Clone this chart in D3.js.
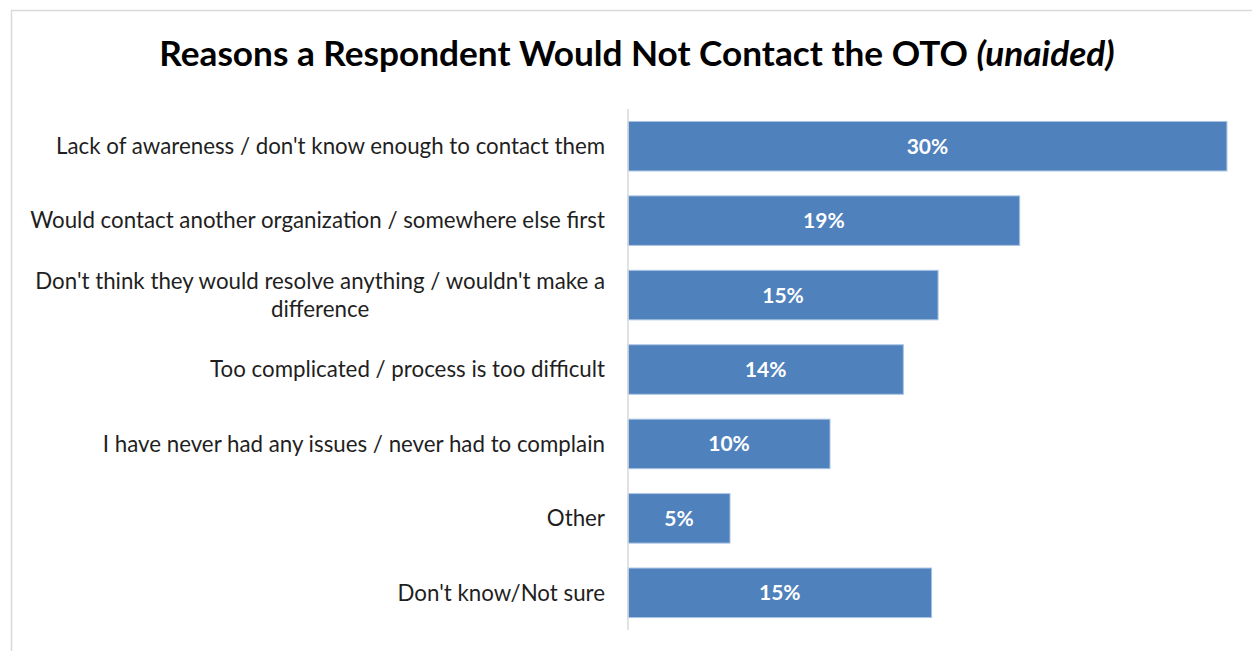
<!DOCTYPE html>
<html>
<head>
<meta charset="utf-8">
<script src="https://cdn.jsdelivr.net/npm/d3@7"></script>
<style>
  html, body { margin: 0; padding: 0; background: #fff; }
  svg { display: block; }
</style>
</head>
<body>
<svg id="chart" width="1252" height="651"></svg>
<script>
// Survey reasons, top to bottom
const categories = [
  ["Lack of awareness / don't know enough to contact them"],
  ["Would contact another organization / somewhere else first"],
  ["Don't think they would resolve anything / wouldn't make a", "difference"],
  ["Too complicated / process is too difficult"],
  ["I have never had any issues / never had to complain"],
  ["Other"],
  ["Don't know/Not sure"]
];
// Share of respondents
const values = [0.2965, 0.1939, 0.1535, 0.1363, 0.1000, 0.0505, 0.1503];

const titleMain = "Reasons a Respondent Would Not Contact the OTO ";
const titleNote = "(unaided)";

const W = 1252, H = 651;
const FONT = "Lato, 'Open Sans', sans-serif";
const svg = d3.select("#chart");

// chart frame
svg.append("path")
  .attr("d", `M11.5,${H} V10.5 H${W}`)
  .attr("fill", "none")
  .attr("stroke", "#d9d9d9")
  .attr("stroke-width", 1.5);

// title
const title = svg.append("text")
  .attr("x", 637)
  .attr("y", 66)
  .attr("text-anchor", "middle")
  .attr("font-family", FONT)
  .attr("font-weight", "bold")
  .attr("font-size", 35.2)
  .attr("fill", "#000");
title.append("tspan").text(titleMain);
title.append("tspan").attr("font-style", "italic").text(titleNote);

const idx = d3.range(categories.length);
const y = d3.scaleBand()
  .domain(idx)
  .range([109, 630])
  .paddingInner(0.335)
  .paddingOuter(0.1675);

const x = d3.scaleLinear()
  .domain([0, 0.30])
  .range([628, 1234]);

// bars
svg.append("g").selectAll("rect")
  .data(values)
  .join("rect")
  .attr("x", x(0))
  .attr("y", (d, i) => y(i))
  .attr("width", d => x(d) - x(0))
  .attr("height", y.bandwidth())
  .attr("fill", "#4f81bd")
  .attr("stroke", "#a9c3e3")
  .attr("stroke-width", 1);

// value axis baseline
svg.append("line")
  .attr("x1", x(0)).attr("x2", x(0))
  .attr("y1", y.range()[0]).attr("y2", y.range()[1])
  .attr("stroke", "#d9d9d9")
  .attr("stroke-width", 1.5);

// value labels
const fmt = d3.format(".0%");
svg.append("g").selectAll("text")
  .data(values)
  .join("text")
  .attr("x", d => (x(0) + x(d)) / 2)
  .attr("y", (d, i) => y(i) + y.bandwidth() / 2)
  .attr("dy", "0.36em")
  .attr("text-anchor", "middle")
  .attr("font-family", FONT)
  .attr("font-weight", "bold")
  .attr("font-size", 21)
  .attr("fill", "#fff")
  .text(d => fmt(d));

// category labels, right aligned with wrapped lines centred on each other
const labelRight = 605;
const lineH = 28;
const catG = svg.append("g")
  .attr("font-family", FONT)
  .attr("font-size", 22.3)
  .attr("fill", "#1f1f1f");

categories.forEach((lines, i) => {
  const cy = y(i) + y.bandwidth() / 2;
  const t = catG.append("text").attr("text-anchor", "middle");
  const spans = lines.map((ln, j) => t.append("tspan")
    .attr("y", cy + (j - (lines.length - 1) / 2) * lineH)
    .attr("dy", "0.35em")
    .text(ln));
  const widest = d3.max(spans, s => s.node().getComputedTextLength());
  spans.forEach(s => s.attr("x", labelRight - widest / 2));
});
</script>
</body>
</html>
